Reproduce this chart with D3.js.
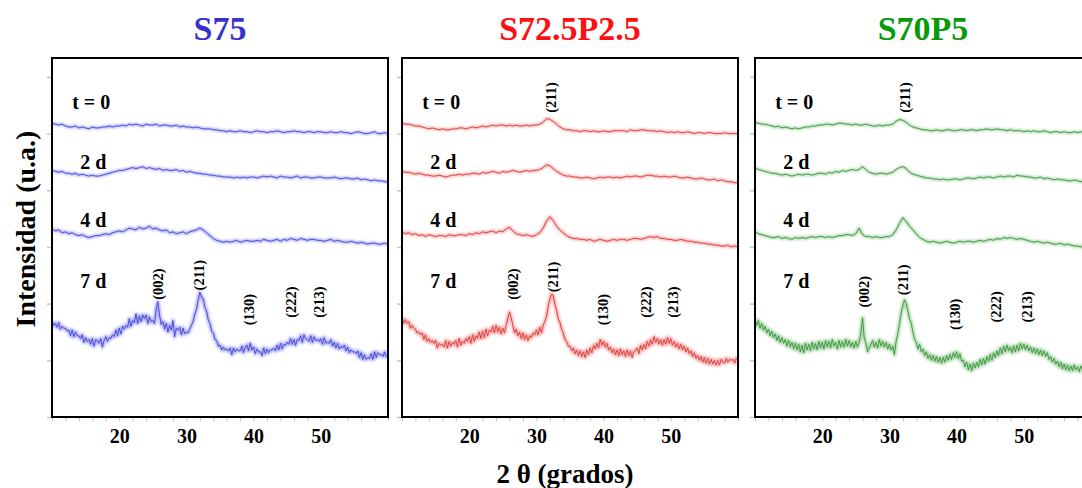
<!DOCTYPE html>
<html>
<head>
<meta charset="utf-8">
<script src="https://cdn.jsdelivr.net/npm/d3@7"></script>
<style>
  html, body { margin: 0; padding: 0; background: #fff; }
  svg { display: block; }
</style>
</head>
<body>
<svg id="chart" width="1082" height="488"></svg>
<script>
// XRD patterns (2θ from 10° to 60°) of three samples after 0, 2, 4 and 7 days.
// Each pattern is stored relative to its own baseline and stacked with an offset.

const angleStart = 10;
const coarseStep = 0.5;   // t = 0, 2 d, 4 d patterns
const fineStep = 0.25;    // 7 d patterns

const timeLabels = ["t = 0", "2 d", "4 d", "7 d"];
const labelAngles = [13, 14.2, 14.2, 14.2];
const labelLevels = [326, 263, 201, 137];

const angleTicks = [20, 30, 40, 50];
const minorAngles = [10, 12, 14, 16, 18, 20, 22, 24, 26, 28, 30, 32, 34, 36, 38, 40, 42, 44, 46, 48, 50, 52, 54, 56, 58, 60];
const intensityTicks = [0, 60, 120, 180, 240, 300, 360];

// ---- S75 ----
const s75Offsets = [300, 249, 183, 66];
const s75_t0 = [11,10, 9,10, 8,7, 7,8, 6,7, 6,5, 7,6, 6,7, 7,8, 7,8, 8,9, 8,10, 9,10, 9,8, 10,9, 9,10, 8,9, 9,8, 8,9, 7,8,
  7,7, 6,7, 6,5, 5,5, 4,4, 3,3, 2,3, 2,2, 3,2, 2,1, 2,3, 2,2, 1,2, 2,3, 2,1, 2,2, 3,2, 2,1, 2,2, 1,2,
  2,1, 1,2, 1,1, 2,1, 1,0, 1,2, 1,0, 0,1, 2,0, 0,1, 0];
const s75_2d = [12,11, 10,11, 9,9, 8,9, 7,8, 7,6, 7,6, 6,7, 8,9, 10,11, 12,12, 13,14, 15,14, 15,16, 14,15, 14,13, 14,12, 13,12, 12,13, 11,12,
  10,11, 10,9, 9,8, 8,7, 7,6, 6,5, 5,5, 4,5, 4,5, 4,5, 5,4, 5,6, 5,6, 5,4, 6,5, 5,4, 5,6, 4,5, 5,4, 4,5,
  5,4, 4,4, 5,4, 3,4, 4,3, 3,4, 2,3, 2,1, 2,1, 1,0, 0];
const s75_4d = [16,14, 15,12, 13,11, 12,10, 9,10, 8,7, 8,9, 9,10, 11,10, 12,13, 14,13, 15,17, 16,15, 18,16, 17,19, 16,17, 15,14, 15,12, 13,11, 12,13,
  11,13, 14,15, 17,15, 12,9, 6,4, 3,2, 3,2, 3,4, 2,3, 4,3, 3,4, 3,5, 4,3, 4,5, 3,5, 4,6, 5,4, 6,5, 4,5, 5,4,
  4,3, 4,5, 3,4, 3,2, 2,3, 2,1, 2,1, 0,1, 1,0, 0,1, 0];
const s75_7d = [
  36,31,33,29, 34,27,30,28, 28,25,26,20, 26,19,24,20, 20,17,21,13, 18,14,16,11, 17,9,16,15, 12,17,8,15, 19,14,18,17, 21,19,26,20,
  28,22,30,27, 31,29,38,30, 36,34,43,33, 41,35,42,38, 42,33,40,35, 36,33,48,56, 42,32,35,27, 33,24,31,26, 36,19,28,26, 29,21,28,22,
  24,23,27,31, 35,43,48,58, 66,61,59,50, 46,37,33,25, 23,16,15,9, 10,5,8,5, 6,4,7,0, 7,3,6,4, 4,9,2,8, 10,4,12,5,
  8,1,6,3, 3,-1,7,1, 6,2,5,5, 7,4,10,5, 12,6,11,10, 13,11,17,11, 16,10,16,15, 20,13,21,17, 16,14,20,13, 19,15,16,14,
  17,11,18,12, 13,12,16,9, 13,7,12,6, 9,7,10,4, 8,2,5,3, 3,1,4,-3, 2,-5,0,-5, -3,-4,1,-5, 3,-3,2,0, 0,-2,3,-2, 0];
const s75Peaks = [["(002)", 25.8, 124], ["(211)", 31.9, 134], ["(130)", 39.3, 97], ["(222)", 45.6, 105], ["(213)", 49.7, 105]];

// ---- S72.5P2.5 ----
const s725Offsets = [300, 248, 180, 60];
const s725_t0 = [11,10, 10,9, 8,8, 7,6, 5,6, 5,4, 5,4, 4,5, 5,6, 6,5, 6,7, 6,7, 8,7, 8,9, 8,9, 9,8, 9,8, 9,8, 8,9, 8,9,
  9,10, 12,16, 15,13, 10,7, 5,4, 4,3, 3,2, 3,3, 2,3, 2,2, 3,2, 2,3, 3,3, 3,2, 4,3, 3,4, 4,3, 3,3, 2,3, 2,1,
  2,1, 2,1, 1,2, 1,0, 1,1, 0,1, 1,0, 0,0, 1,0, 0,0, 0];
const s725_2d = [12,11, 11,10, 9,10, 9,8, 8,7, 7,8, 7,6, 7,8, 8,9, 8,9, 9,10, 10,9, 11,10, 11,12, 11,10, 12,11, 12,13, 12,11, 12,13, 12,13,
  13,14, 16,19, 18,15, 12,10, 8,7, 7,6, 6,5, 5,6, 5,4, 5,6, 5,6, 6,5, 6,5, 6,7, 6,7, 7,6, 7,8, 8,7, 7,6, 7,6,
  6,7, 6,5, 5,6, 5,4, 4,5, 4,3, 3,4, 2,3, 2,1, 1,0, 0];
const s725_4d = [16,14, 15,13, 14,12, 13,11, 13,12, 11,12, 12,11, 13,12, 12,13, 13,12, 14,13, 15,14, 16,15, 16,17, 15,17, 16,19, 21,17, 14,13, 12,13, 12,11,
  13,15, 20,27, 32,28, 22,18, 15,12, 10,9, 9,8, 8,7, 8,6, 7,8, 7,6, 7,8, 7,8, 8,7, 8,9, 9,8, 9,10, 11,10, 11,9, 9,8,
  8,7, 7,8, 7,6, 6,5, 5,4, 4,3, 3,2, 2,1, 1,2, 0,1, 0];
const s725_7d = [
  46,39,43,39, 41,34,37,34, 33,29,30,27, 29,22,27,20, 23,19,21,18, 21,13,18,16, 17,14,21,13, 20,15,19,17, 21,14,23,16, 20,18,23,20,
  25,18,27,20, 26,23,30,23, 31,24,33,26, 32,30,36,29, 37,30,35,28, 34,29,37,45, 51,45,37,29, 33,26,30,23, 29,22,27,21, 26,24,29,27,
  32,27,35,29, 37,41,46,57, 65,70,69,59, 53,44,40,33, 29,22,20,15, 15,10,13,7, 11,5,10,4, 9,3,11,6, 13,8,16,12, 18,13,22,16,
  20,14,18,11, 14,8,12,6, 11,5,12,6, 10,4,11,5, 10,3,9,10, 13,7,16,11, 17,12,20,15, 22,17,25,19, 23,17,22,16, 22,17,24,18,
  23,16,20,14, 18,12,17,11, 15,9,13,7, 10,4,8,2, 5,0,4,-2, 3,-3,2,-4, 1,-4,0,-5, 0,-5,1,-2, -3,2,-2,1, 0,1,-3,2, 0];
const s725Peaks = [["(211)", 32.2, 322], ["(002)", 26.5, 124], ["(211)", 32.5, 132], ["(130)", 39.9, 97], ["(222)", 46.3, 105], ["(213)", 50.3, 105]];

// ---- S70P5 ----
const s70Offsets = [301, 249, 180, 54];
const s70_t0 = [11,10, 9,9, 8,7, 6,7, 5,6, 5,4, 5,4, 5,6, 6,7, 7,8, 8,9, 9,8, 9,10, 10,9, 9,8, 9,8, 8,9, 8,7, 7,8, 7,8,
  8,9, 12,14, 13,11, 8,6, 5,4, 3,3, 2,2, 3,2, 2,3, 3,2, 2,3, 3,2, 3,3, 2,3, 3,4, 3,3, 4,3, 3,2, 3,2, 2,2,
  1,2, 1,2, 1,1, 2,1, 0,1, 1,0, 1,0, 0,1, 0,1, 0,0, 0];
const s70_2d = [15,13, 12,11, 10,9, 9,8, 7,8, 7,6, 7,8, 7,8, 8,7, 8,9, 9,8, 10,9, 11,10, 12,11, 12,13, 12,13, 16,13, 10,9, 8,9, 9,8,
  9,10, 13,15, 16,14, 10,8, 7,6, 5,4, 4,3, 3,2, 3,2, 2,3, 3,2, 3,4, 4,3, 4,5, 4,5, 5,4, 5,6, 5,6, 6,5, 7,6,
  6,5, 5,4, 4,5, 3,4, 3,2, 3,2, 2,1, 1,2, 1,0, 1,0, 0];
const s70_4d = [16,14, 13,12, 11,10, 10,11, 9,10, 9,8, 10,9, 10,9, 10,11, 10,11, 11,10, 11,10, 11,12, 12,13, 13,12, 14,20, 13,11, 11,10, 11,10, 10,11,
  11,13, 18,25, 31,27, 22,18, 14,10, 8,6, 5,6, 5,4, 5,6, 5,4, 5,6, 5,6, 6,5, 6,7, 6,7, 8,7, 9,8, 10,9, 10,9, 8,9,
  8,7, 6,5, 6,5, 4,5, 4,3, 3,4, 2,3, 2,1, 1,0, 1,0, 0];
const s70_7d = [
  50,43,48,40, 45,38,42,35, 39,32,37,30, 34,27,32,25, 30,24,28,21, 27,20,25,18, 24,17,23,15, 22,14,24,17, 23,16,25,18, 24,17,26,19,
  25,18,27,20, 26,19,28,21, 25,18,27,20, 26,20,28,21, 27,20,25,19, 26,20,25,35, 51,30,24,15, 19,23,27,20, 25,19,28,21, 26,20,25,18,
  23,17,21,12, 26,34,45,56, 64,70,66,58, 50,45,36,28, 25,18,23,15, 18,11,15,8, 12,6,11,5, 10,4,9,3, 9,4,11,6, 12,7,14,9,
  15,8,13,5, 6,-1,4,-4, 2,-5,3,-2, 4,-1,7,1, 8,2,10,5, 12,6,14,9, 16,11,19,13, 21,15,22,16, 20,14,21,15, 22,16,24,18,
  23,17,22,16, 20,14,19,13, 18,12,17,11, 16,10,14,7, 10,4,8,2, 5,-1,4,-3, 2,-4,1,-5, 0,-5,1,-4, -1,-6,0,-4, 0,-4,1,-3, 0];
const s70Peaks = [["(211)", 32.3, 322], ["(002)", 26.2, 116], ["(211)", 32.0, 129], ["(130)", 39.8, 92], ["(222)", 45.9, 100], ["(213)", 50.5, 100]];

const panels = [
  { title: "S75", titleColor: "#3434cc", core: "#3c3cd8", halo: "#9a9af0",
    series: [s75_t0, s75_2d, s75_4d, s75_7d], offsets: s75Offsets, peaks: s75Peaks },
  { title: "S72.5P2.5", titleColor: "#ff0f0f", core: "#d93434", halo: "#f29a9a",
    series: [s725_t0, s725_2d, s725_4d, s725_7d], offsets: s725Offsets, peaks: s725Peaks },
  { title: "S70P5", titleColor: "#089a08", core: "#358f35", halo: "#98cd98",
    series: [s70_t0, s70_2d, s70_4d, s70_7d], offsets: s70Offsets, peaks: s70Peaks }
];
const steps = [coarseStep, coarseStep, coarseStep, fineStep];
const haloWidths = [3, 3, 3.4, 4];

// ---- layout ----
const FONT = "'Liberation Serif', 'Times New Roman', Times, serif";
const plotTop = 58, plotBottom = 417, plotWidth = 336;
const panelLefts = [52, 402, 755];

const svg = d3.select("#chart");
const defs = svg.append("defs");

// soft glow around the scanned traces
defs.append("filter").attr("id", "soft")
  .attr("x", "-5%").attr("y", "-50%").attr("width", "110%").attr("height", "200%")
  .append("feGaussianBlur").attr("stdDeviation", 0.9);

const y = d3.scaleLinear().domain([0, 380]).range([plotBottom, plotTop]);

panels.forEach((p, i) => {
  const left = panelLefts[i];
  const x = d3.scaleLinear().domain([10, 60]).range([left, left + plotWidth]);
  const g = svg.append("g").attr("class", "panel");

  const clipId = "clip" + i;
  defs.append("clipPath").attr("id", clipId)
    .append("rect").attr("x", left).attr("y", plotTop)
    .attr("width", plotWidth).attr("height", plotBottom - plotTop);

  // faint intensity ticks on the left edge
  g.append("g").attr("transform", `translate(${left - 1},0)`)
    .call(d3.axisLeft(y).tickValues(intensityTicks).tickSize(4).tickFormat(""))
    .call(a => { a.select(".domain").remove(); a.selectAll("line").attr("stroke", "#c4c4c4").attr("stroke-width", 1.5); });

  // minor 2θ ticks under the frame
  g.append("g").attr("transform", `translate(0,${plotBottom + 1})`)
    .call(d3.axisBottom(x).tickValues(minorAngles).tickSize(3).tickFormat(""))
    .call(a => { a.select(".domain").remove(); a.selectAll("line").attr("stroke", "#bdbdbd"); });

  // 2θ tick labels
  g.append("g").attr("transform", `translate(0,${plotBottom})`)
    .call(d3.axisBottom(x).tickValues(angleTicks).tickSize(0))
    .call(a => {
      a.select(".domain").remove();
      a.selectAll("text").attr("y", 26).attr("dy", 0)
        .attr("font-family", FONT).attr("font-weight", "bold").attr("font-size", 20).attr("fill", "#000");
    });

  // patterns
  const curves = g.append("g").attr("clip-path", `url(#${clipId})`);
  p.series.forEach((vals, k) => {
    const off = p.offsets[k], step = steps[k];
    const line = d3.line()
      .x((v, j) => x(angleStart + j * step))
      .y(v => y(off + v));
    curves.append("path").attr("d", line(vals))
      .attr("fill", "none").attr("stroke", p.halo).attr("stroke-width", haloWidths[k])
      .attr("stroke-opacity", 0.75).attr("stroke-linejoin", "round")
      .attr("filter", "url(#soft)");
    curves.append("path").attr("d", line(vals))
      .attr("fill", "none").attr("stroke", p.core).attr("stroke-width", 1)
      .attr("stroke-opacity", 0.85).attr("stroke-linejoin", "round");
  });

  // time labels
  timeLabels.forEach((t, k) => {
    g.append("text").attr("x", x(labelAngles[k])).attr("y", y(labelLevels[k]))
      .attr("font-family", FONT).attr("font-weight", "bold").attr("font-size", 20)
      .attr("fill", "#000").text(t);
  });

  // Miller indices of the apatite reflections
  p.peaks.forEach(([hkl, angle, level]) => {
    g.append("text")
      .attr("transform", `translate(${x(angle)},${y(level)}) rotate(-90)`)
      .attr("text-anchor", "start").attr("dominant-baseline", "central")
      .attr("font-family", FONT).attr("font-weight", "bold").attr("font-size", 14.5)
      .attr("fill", "#000").text(hkl);
  });

  // frame
  g.append("rect").attr("x", left).attr("y", plotTop)
    .attr("width", plotWidth).attr("height", plotBottom - plotTop)
    .attr("fill", "none").attr("stroke", "#000").attr("stroke-width", 2);

  // sample name
  svg.append("text").attr("x", left + plotWidth / 2).attr("y", 40)
    .attr("text-anchor", "middle")
    .attr("font-family", FONT).attr("font-weight", "bold").attr("font-size", 34)
    .attr("fill", p.titleColor).text(p.title);
});

// axis titles
svg.append("text")
  .attr("transform", "translate(35,229) rotate(-90)")
  .attr("text-anchor", "middle")
  .attr("font-family", FONT).attr("font-weight", "bold").attr("font-size", 28)
  .attr("fill", "#000").text("Intensidad (u.a.)");

svg.append("text")
  .attr("x", 565).attr("y", 483).attr("text-anchor", "middle")
  .attr("font-family", FONT).attr("font-weight", "bold").attr("font-size", 27)
  .attr("fill", "#000").text("2 θ (grados)");
</script>
</body>
</html>
